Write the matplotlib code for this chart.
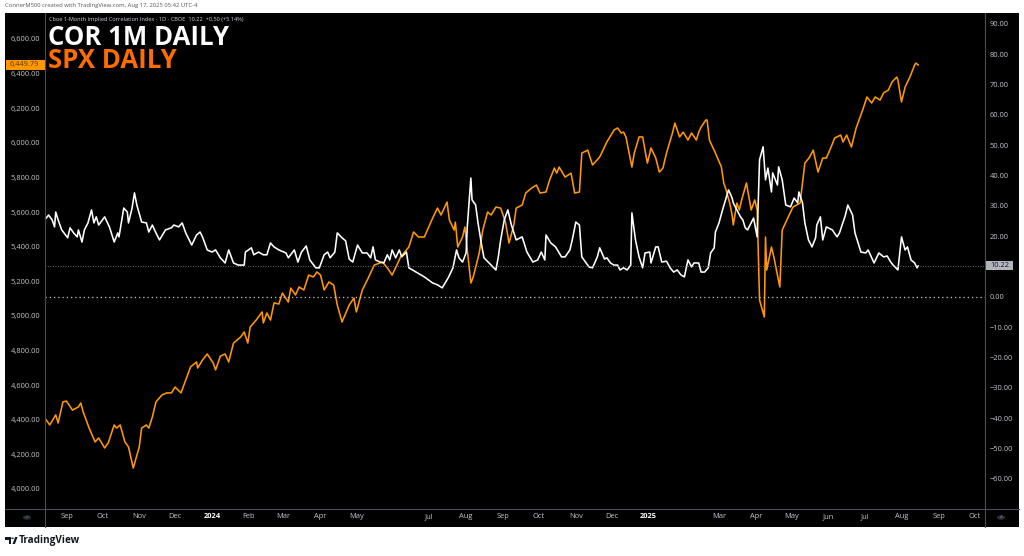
import matplotlib
matplotlib.use("Agg")
import matplotlib.pyplot as plt
import matplotlib.transforms as mtransforms
from matplotlib.patches import Rectangle, Circle, Polygon
from matplotlib.lines import Line2D
import pandas as pd

W, H = 1024, 556

spx_dates = [
    "2023-08-15", "2023-08-18", "2023-08-23", "2023-08-25", "2023-08-29", "2023-09-01",
    "2023-09-06", "2023-09-11", "2023-09-13", "2023-09-15", "2023-09-20", "2023-09-25",
    "2023-09-28", "2023-10-03", "2023-10-06", "2023-10-11", "2023-10-13", "2023-10-16",
    "2023-10-20", "2023-10-23", "2023-10-27", "2023-11-01", "2023-11-03", "2023-11-07",
    "2023-11-09", "2023-11-12", "2023-11-15", "2023-11-20", "2023-11-24", "2023-11-28",
    "2023-12-01", "2023-12-06", "2023-12-10", "2023-12-14", "2023-12-19", "2023-12-20",
    "2023-12-24", "2023-12-28", "2024-01-02", "2024-01-04", "2024-01-08", "2024-01-12",
    "2024-01-15", "2024-01-19", "2024-01-25", "2024-01-28", "2024-01-31", "2024-02-02",
    "2024-02-07", "2024-02-12", "2024-02-13", "2024-02-16", "2024-02-19", "2024-02-22",
    "2024-02-26", "2024-02-29", "2024-03-05", "2024-03-07", "2024-03-11", "2024-03-14",
    "2024-03-18", "2024-03-22", "2024-03-26", "2024-03-29", "2024-04-01", "2024-04-04",
    "2024-04-08", "2024-04-12", "2024-04-15", "2024-04-19", "2024-04-25", "2024-04-29",
    "2024-05-01", "2024-05-06", "2024-05-11", "2024-05-16", "2024-05-23", "2024-05-27",
    "2024-05-31", "2024-06-04", "2024-06-07", "2024-06-14", "2024-06-18", "2024-06-22",
    "2024-06-27", "2024-07-04", "2024-07-08", "2024-07-11", "2024-07-16", "2024-07-18",
    "2024-07-22", "2024-07-23", "2024-07-25", "2024-07-29", "2024-07-31", "2024-08-02",
    "2024-08-05", "2024-08-07", "2024-08-12", "2024-08-15", "2024-08-19", "2024-08-22",
    "2024-08-26", "2024-08-30", "2024-09-03", "2024-09-06", "2024-09-10", "2024-09-12",
    "2024-09-17", "2024-09-20", "2024-09-25", "2024-09-29", "2024-10-02", "2024-10-07",
    "2024-10-10", "2024-10-14", "2024-10-16", "2024-10-18", "2024-10-23", "2024-10-28",
    "2024-10-31", "2024-11-04", "2024-11-06", "2024-11-11", "2024-11-15", "2024-11-21",
    "2024-11-25", "2024-11-27", "2024-12-03", "2024-12-06", "2024-12-09", "2024-12-11",
    "2024-12-13", "2024-12-18", "2024-12-20", "2024-12-24", "2024-12-27", "2024-12-30",
    "2024-12-31", "2025-01-03", "2025-01-07", "2025-01-10", "2025-01-13", "2025-01-16",
    "2025-01-21", "2025-01-23", "2025-01-27", "2025-01-30", "2025-02-03", "2025-02-06",
    "2025-02-10", "2025-02-12", "2025-02-14", "2025-02-18", "2025-02-19", "2025-02-21",
    "2025-02-26", "2025-03-03", "2025-03-05", "2025-03-07", "2025-03-10", "2025-03-12",
    "2025-03-13", "2025-03-16", "2025-03-18", "2025-03-20", "2025-03-24", "2025-03-28",
    "2025-03-31", "2025-04-02", "2025-04-04", "2025-04-08", "2025-04-09", "2025-04-10",
    "2025-04-14", "2025-04-16", "2025-04-21", "2025-04-23", "2025-04-28", "2025-05-02",
    "2025-05-08", "2025-05-12", "2025-05-16", "2025-05-19", "2025-05-23", "2025-05-27",
    "2025-05-30", "2025-06-03", "2025-06-06", "2025-06-11", "2025-06-13", "2025-06-16",
    "2025-06-20", "2025-06-24", "2025-06-30", "2025-07-03", "2025-07-07", "2025-07-10",
    "2025-07-14", "2025-07-17", "2025-07-21", "2025-07-24", "2025-07-28", "2025-07-29",
    "2025-08-01", "2025-08-04", "2025-08-06", "2025-08-08", "2025-08-12", "2025-08-13",
    "2025-08-15",
]
spx_close = [
    4399, 4370, 4428, 4381, 4503, 4508,
    4456, 4474, 4497, 4445, 4352, 4272,
    4295, 4237, 4266, 4370, 4352, 4370,
    4272, 4243, 4121, 4243, 4352, 4370,
    4352, 4416, 4503, 4543, 4555, 4555,
    4589, 4555, 4630, 4705, 4734, 4699,
    4745, 4780, 4728, 4688, 4768, 4780,
    4734, 4843, 4878, 4907, 4843, 4936,
    4976, 5023, 4959, 5017, 4976, 5075,
    5069, 5132, 5080, 5161, 5121, 5167,
    5150, 5236, 5225, 5254, 5236, 5150,
    5196, 5178, 5063, 4965, 5063, 5103,
    5023, 5150, 5219, 5294, 5311, 5277,
    5236, 5294, 5340, 5398, 5485, 5456,
    5456, 5566, 5623, 5583, 5658, 5554,
    5496, 5542, 5398, 5456, 5514, 5381,
    5190, 5225, 5363, 5496, 5600, 5583,
    5629, 5623, 5542, 5421, 5525, 5623,
    5641, 5710, 5739, 5756, 5710, 5716,
    5785, 5854, 5825, 5860, 5802, 5825,
    5710, 5716, 5941, 5958, 5872, 5918,
    5976, 6005, 6074, 6086, 6057, 6062,
    6034, 5860, 5941, 6034, 6034, 5918,
    5883, 5970, 5912, 5831, 5854, 5941,
    6057, 6114, 6034, 6062, 6016, 6057,
    6016, 6062, 6091, 6132, 6132, 6016,
    5941, 5860, 5768, 5727, 5652, 5583,
    5525, 5652, 5612, 5670, 5768, 5612,
    5670, 5612, 5092, 4994, 5456, 5265,
    5398, 5340, 5167, 5496, 5571, 5629,
    5652, 5883, 5918, 5958, 5831, 5912,
    5912, 5976, 6028, 6045, 6005, 6045,
    5976, 6086, 6201, 6265, 6230, 6265,
    6247, 6288, 6305, 6351, 6380, 6363,
    6236, 6322, 6351, 6380, 6449, 6461,
    6449.79,
]

cor_dates = [
    "2023-08-15", "2023-08-17", "2023-08-20", "2023-08-22", "2023-08-23", "2023-08-25",
    "2023-08-28", "2023-09-02", "2023-09-04", "2023-09-07", "2023-09-10", "2023-09-11",
    "2023-09-14", "2023-09-16", "2023-09-19", "2023-09-22", "2023-09-24", "2023-09-26",
    "2023-09-28", "2023-10-03", "2023-10-07", "2023-10-11", "2023-10-14", "2023-10-15",
    "2023-10-16", "2023-10-19", "2023-10-22", "2023-10-23", "2023-10-26", "2023-10-28",
    "2023-10-30", "2023-11-03", "2023-11-07", "2023-11-09", "2023-11-12", "2023-11-15",
    "2023-11-18", "2023-11-23", "2023-11-28", "2023-11-30", "2023-12-04", "2023-12-07",
    "2023-12-10", "2023-12-15", "2023-12-19", "2023-12-22", "2023-12-24", "2023-12-28",
    "2024-01-01", "2024-01-04", "2024-01-08", "2024-01-12", "2024-01-15", "2024-01-19",
    "2024-01-23", "2024-01-28", "2024-01-29", "2024-02-03", "2024-02-05", "2024-02-09",
    "2024-02-13", "2024-02-16", "2024-02-19", "2024-02-22", "2024-02-26", "2024-03-03",
    "2024-03-05", "2024-03-10", "2024-03-13", "2024-03-16", "2024-03-20", "2024-03-23",
    "2024-03-28", "2024-03-31", "2024-04-04", "2024-04-07", "2024-04-09", "2024-04-13",
    "2024-04-15", "2024-04-19", "2024-04-22", "2024-04-25", "2024-04-28", "2024-05-02",
    "2024-05-06", "2024-05-10", "2024-05-13", "2024-05-15", "2024-05-17", "2024-05-21",
    "2024-05-24", "2024-05-27", "2024-05-29", "2024-05-31", "2024-06-03", "2024-06-06",
    "2024-06-08", "2024-06-12", "2024-06-14", "2024-06-20", "2024-06-27", "2024-07-04",
    "2024-07-08", "2024-07-12", "2024-07-17", "2024-07-21", "2024-07-24", "2024-07-26",
    "2024-07-29", "2024-08-01", "2024-08-02", "2024-08-05", "2024-08-06", "2024-08-09",
    "2024-08-11", "2024-08-14", "2024-08-16", "2024-08-22", "2024-08-26", "2024-08-28",
    "2024-08-30", "2024-09-02", "2024-09-05", "2024-09-08", "2024-09-12", "2024-09-17",
    "2024-09-21", "2024-09-26", "2024-09-30", "2024-10-03", "2024-10-06", "2024-10-07",
    "2024-10-11", "2024-10-15", "2024-10-20", "2024-10-23", "2024-10-27", "2024-10-29",
    "2024-11-01", "2024-11-04", "2024-11-06", "2024-11-12", "2024-11-15", "2024-11-19",
    "2024-11-21", "2024-11-25", "2024-11-27", "2024-11-30", "2024-12-03", "2024-12-06",
    "2024-12-08", "2024-12-11", "2024-12-14", "2024-12-17", "2024-12-18", "2024-12-21",
    "2024-12-24", "2024-12-27", "2024-12-29", "2025-01-02", "2025-01-03", "2025-01-07",
    "2025-01-09", "2025-01-12", "2025-01-16", "2025-01-19", "2025-01-22", "2025-01-25",
    "2025-01-28", "2025-01-31", "2025-02-03", "2025-02-06", "2025-02-08", "2025-02-12",
    "2025-02-14", "2025-02-17", "2025-02-20", "2025-02-22", "2025-02-25", "2025-02-26",
    "2025-03-01", "2025-03-04", "2025-03-06", "2025-03-09", "2025-03-12", "2025-03-13",
    "2025-03-16", "2025-03-19", "2025-03-21", "2025-03-23", "2025-03-25", "2025-03-27",
    "2025-03-30", "2025-04-02", "2025-04-04", "2025-04-07", "2025-04-09", "2025-04-11",
    "2025-04-14", "2025-04-15", "2025-04-19", "2025-04-20", "2025-04-23", "2025-04-26",
    "2025-04-30", "2025-05-03", "2025-05-06", "2025-05-07", "2025-05-10", "2025-05-12",
    "2025-05-15", "2025-05-18", "2025-05-21", "2025-05-22", "2025-05-25", "2025-05-27",
    "2025-05-30", "2025-06-04", "2025-06-08", "2025-06-10", "2025-06-15", "2025-06-17",
    "2025-06-21", "2025-06-23", "2025-06-28", "2025-07-02", "2025-07-04", "2025-07-09",
    "2025-07-13", "2025-07-17", "2025-07-20", "2025-07-23", "2025-07-25", "2025-07-29",
    "2025-08-01", "2025-08-04", "2025-08-06", "2025-08-09", "2025-08-12", "2025-08-14",
    "2025-08-15",
]
cor_close = [
    26.0, 27.0, 25.4, 23.1, 28.0, 25.4,
    22.1, 19.5, 22.8, 21.1, 19.8, 22.1,
    18.1, 22.1, 24.4, 28.7, 24.4, 26.4,
    23.7, 26.4, 23.1, 18.1, 21.1, 19.8,
    22.1, 29.3, 28.0, 24.4, 29.3, 34.3,
    30.3, 24.7, 24.4, 21.4, 23.7, 21.1,
    18.8, 22.1, 22.8, 23.7, 23.1, 24.4,
    21.1, 17.1, 20.4, 21.4, 19.8, 15.5,
    14.8, 15.5, 12.9, 11.2, 15.5, 11.2,
    10.5, 10.5, 14.8, 16.2, 13.9, 14.8,
    13.9, 13.9, 17.8, 16.5, 15.5, 14.5,
    12.9, 15.5, 11.5, 14.8, 16.8, 12.2,
    9.6, 9.6, 13.9, 14.8, 12.9, 14.8,
    21.1, 19.5, 18.5, 12.5, 11.5, 17.1,
    14.5, 14.5, 12.9, 16.5, 12.2, 11.5,
    11.2, 13.9, 12.2, 15.5, 12.9, 15.5,
    13.2, 14.8, 9.6, 8.2, 6.6, 4.6,
    4.0, 3.0, 6.3, 9.6, 15.5, 12.9,
    11.5, 14.5, 23.1, 39.2, 32.0, 30.3,
    24.4, 17.1, 12.9, 10.5, 8.9, 13.2,
    18.8, 25.4, 28.7, 23.7, 18.8, 19.8,
    14.8, 11.5, 12.2, 14.8, 12.2, 20.4,
    17.8, 16.5, 13.2, 13.2, 15.5, 18.8,
    24.7, 23.7, 13.2, 9.9, 9.6, 13.2,
    16.2, 12.5, 12.9, 11.2, 10.5, 10.5,
    8.9, 9.6, 8.9, 10.5, 27.7, 18.8,
    13.2, 9.6, 14.5, 14.8, 11.2, 16.5,
    16.5, 11.5, 11.8, 9.6, 8.2, 8.9,
    7.3, 6.6, 12.2, 9.9, 11.2, 11.2,
    8.2, 8.2, 9.6, 14.5, 16.2, 21.4,
    24.4, 28.7, 31.3, 35.3, 32.6, 31.0,
    28.7, 26.4, 25.4, 22.8, 22.1, 23.7,
    26.0, 19.8, 45.2, 49.5, 38.6, 42.5,
    34.6, 40.9, 36.9, 42.9, 38.6, 30.3,
    29.7, 32.6, 31.0, 34.6, 31.0, 24.4,
    18.8, 16.5, 19.5, 23.7, 26.4, 18.8,
    23.1, 22.1, 19.8, 21.1, 27.0, 30.3,
    27.0, 21.1, 14.8, 14.5, 15.5, 11.2,
    14.5, 13.2, 13.5, 11.5, 10.5, 8.9,
    19.8, 15.5, 16.5, 12.2, 11.2, 9.6,
    10.22,
]

# month labels shown on the time scale (TradingView skips Jun 2024 and Feb 2025)
month_ticks = [
    "2023-09-01", "2023-10-01", "2023-11-01", "2023-12-01", "2024-01-01", "2024-02-01",
    "2024-03-01", "2024-04-01", "2024-05-01", "2024-07-01", "2024-08-01", "2024-09-01",
    "2024-10-01", "2024-11-01", "2024-12-01", "2025-01-01", "2025-03-01", "2025-04-01",
    "2025-05-01", "2025-06-01", "2025-07-01", "2025-08-01", "2025-09-01", "2025-10-01",
]
spx_ticks = list(range(4000, 6601, 200))
cor_ticks = list(range(-60, 91, 10))

title_main = "COR 1M DAILY"
title_sub = "SPX DAILY"
header = "Cboe 1-Month Implied Correlation Index \u00b7 1D \u00b7 CBOE  10.22  +0.50 (+5.14%)"
credit = "ConnerM500 created with TradingView.com, Aug 17, 2025 05:42 UTC-4"

ORANGE = "#ff9800"
TEXT_ORANGE = "#ff6d00"
AXIS_TXT = "#c3c6cd"
SEP = "#4a4d57"
FONT = "Open Sans"


def fx(x):
    return x / W


def fy(y):
    return 1 - y / H


fig = plt.figure(figsize=(W / 100, H / 100), dpi=100, facecolor="white")

# black chart panel
fig.add_artist(Rectangle((fx(5), fy(527)), fx(1019) - fx(5), fy(13) - fy(527),
                         transform=fig.transFigure, fc="black", ec="none", zorder=0))

ax = fig.add_axes([fx(45), fy(509), fx(985) - fx(45), fy(13) - fy(509)])
ax.set_facecolor("black")
ax2 = ax.twinx()

spx_d = pd.to_datetime(spx_dates)
cor_d = pd.to_datetime(cor_dates)

ax.plot(spx_d, spx_close, color=ORANGE, lw=1.15, solid_joinstyle="round")
ax2.plot(cor_d, cor_close, color="white", lw=1.15, solid_joinstyle="round")

ax.set_xlim(pd.Timestamp("2023-08-14"), pd.Timestamp("2025-10-10"))
ax.set_ylim(3884.4, 6750.2)
ax2.set_ylim(-69.9, 93.6)

for a in (ax, ax2):
    for s in a.spines.values():
        s.set_visible(False)

ax.set_yticks(spx_ticks, [f"{v:,.2f}" for v in spx_ticks])
ax2.set_yticks(cor_ticks, [f"{v:.2f}".replace("-", "\u2212") for v in cor_ticks])
ax.tick_params(axis="y", length=0, pad=3.2, labelsize=5.4, labelcolor=AXIS_TXT)
ax2.tick_params(axis="y", length=0, pad=3.4, labelsize=5.4, labelcolor=AXIS_TXT)
for lbl in ax.get_yticklabels() + ax2.get_yticklabels():
    lbl.set_fontfamily(FONT)

mt = pd.to_datetime(month_ticks)
ax.set_xticks(mt, [d.strftime("%Y") if d.month == 1 else d.strftime("%b") for d in mt])
ax.tick_params(axis="x", length=0, pad=3.2, labelsize=5.4, labelcolor=AXIS_TXT)
for lbl, d in zip(ax.get_xticklabels(), mt):
    lbl.set_fontfamily(FONT)
    if d.month == 1:
        lbl.set_fontweight("bold")
        lbl.set_color("white")

# dotted lines: last value and zero
ax2.axhline(cor_close[-1], color="#8a8d96", lw=0.6, ls=(0, (1, 2)))
ax2.axhline(0, color="#c9cbd1", lw=0.9, ls=(0, (1, 2.4)))

# price tags
tr_r = mtransforms.blended_transform_factory(ax2.transAxes, ax2.transData)
ax2.add_patch(Rectangle((1.0011, cor_close[-1] - 1.5), 0.0287, 3.0, transform=tr_r,
                        fc="#b2b5be", ec="none", clip_on=False, zorder=5))
ax2.text(1.0155, cor_close[-1], f"{cor_close[-1]:.2f}", transform=tr_r, ha="center",
         va="center", fontsize=5.3, color="#131722", family=FONT, clip_on=False, zorder=6)

tr_l = mtransforms.blended_transform_factory(ax.transAxes, ax.transData)
ax.add_patch(Rectangle((-0.0415, spx_close[-1] - 30), 0.0415, 60, transform=tr_l,
                       fc=ORANGE, ec="none", clip_on=False, zorder=5))
ax.text(-0.0215, spx_close[-1], f"{spx_close[-1]:,.2f}", transform=tr_l, ha="center",
        va="center", fontsize=5.3, color="#5a3a10", family=FONT, clip_on=False, zorder=6)

# separators
for (x0, y0, x1, y1) in [(45, 13, 45, 527), (985, 13, 985, 527), (5, 509, 1019, 509)]:
    fig.add_artist(Line2D([fx(x0), fx(x1)], [fy(y0), fy(y1)], transform=fig.transFigure,
                          color=SEP, lw=0.8, zorder=3))

# texts
fig.text(fx(5), fy(6), credit, fontsize=4.2, color="#555555", family=FONT, va="center", ha="left")
fig.text(fx(49), fy(20), header, fontsize=4.1, color="#d1d4dc", family=FONT, va="center", ha="left")
fig.text(fx(48), fy(45), title_main, fontsize=18.5, color="white", family=FONT,
         weight="bold", va="baseline", ha="left")
fig.text(fx(48), fy(68), title_sub, fontsize=18.5, color=TEXT_ORANGE, family=FONT,
         weight="bold", va="baseline", ha="left")

# small round buttons on the time scale
for cx, ch in [(27, "z"), (1001, "A")]:
    fig.add_artist(Circle((fx(cx), fy(517.5)), 4 / W, transform=fig.transFigure,
                          fc="#2a2e39", ec="none", zorder=4))
    fig.text(fx(cx), fy(517.5), ch, fontsize=3.2, color="#787b86", family=FONT,
             ha="center", va="center", zorder=5)

# TradingView logo
logo = "#131722"
fig.add_artist(Rectangle((fx(5), fy(539.5)), fx(11) - fx(5), fy(537) - fy(539.5),
                         transform=fig.transFigure, fc=logo, ec="none"))
fig.add_artist(Rectangle((fx(8.6), fy(544)), fx(11) - fx(8.6), fy(537) - fy(544),
                         transform=fig.transFigure, fc=logo, ec="none"))
fig.add_artist(Circle((fx(12.6), fy(538.3)), 1.3 / W, transform=fig.transFigure,
                      fc=logo, ec="none"))
fig.add_artist(Polygon([(fx(12.5), fy(544)), (fx(15.2), fy(537)), (fx(17.6), fy(537)),
                        (fx(14.9), fy(544))], closed=True, transform=fig.transFigure,
                       fc=logo, ec="none"))
fig.text(fx(19), fy(540.5), "TradingView", fontsize=7.2, color=logo, family=FONT,
         weight="bold", ha="left", va="center")

fig.savefig("out.png", dpi=100, facecolor="white")
